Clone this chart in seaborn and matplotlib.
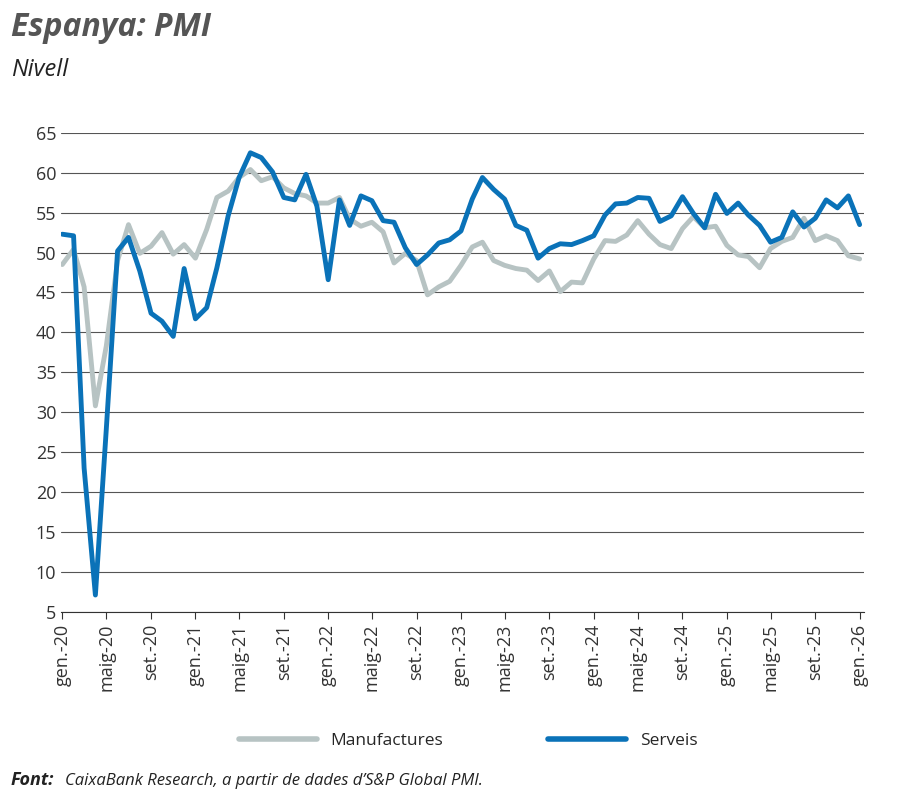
import numpy as np
import pandas as pd
import matplotlib
matplotlib.use("Agg")
import matplotlib.pyplot as plt
import seaborn as sns
from matplotlib.lines import Line2D

months = pd.date_range("2020-01-01", "2026-01-01", freq="MS")

manufactures = [48.5, 50.4, 45.7, 30.8, 38.3, 49.0, 53.5, 49.9, 50.8, 52.5, 49.8, 51.0,
                49.3, 52.9, 56.9, 57.7, 59.4, 60.4, 59.0, 59.5, 58.1, 57.4, 57.1, 56.2,
                56.2, 56.9, 54.2, 53.3, 53.8, 52.6, 48.7, 49.9, 49.0, 44.7, 45.7, 46.4,
                48.4, 50.7, 51.3, 49.0, 48.4, 48.0, 47.8, 46.5, 47.7, 45.1, 46.3, 46.2,
                49.2, 51.5, 51.4, 52.2, 54.0, 52.3, 51.0, 50.5, 53.0, 54.5, 53.1, 53.3,
                50.9, 49.7, 49.5, 48.1, 50.5, 51.4, 51.9, 54.3, 51.5, 52.1, 51.5, 49.6,
                49.2]
serveis = [52.3, 52.1, 23.0, 7.1, 27.9, 50.2, 51.9, 47.7, 42.4, 41.4, 39.5, 48.0,
           41.7, 43.1, 48.1, 54.6, 59.4, 62.5, 61.9, 60.1, 56.9, 56.6, 59.8, 55.8,
           46.6, 56.6, 53.4, 57.1, 56.5, 54.0, 53.8, 50.6, 48.5, 49.7, 51.2, 51.6,
           52.7, 56.7, 59.4, 57.9, 56.7, 53.4, 52.8, 49.3, 50.5, 51.1, 51.0, 51.5,
           52.1, 54.7, 56.1, 56.2, 56.9, 56.8, 53.9, 54.6, 57.0, 54.9, 53.1, 57.3,
           54.9, 56.2, 54.7, 53.4, 51.3, 51.9, 55.1, 53.2, 54.3, 56.6, 55.6, 57.1,
           53.5]

month_names = {1: "gen.", 5: "maig", 9: "set."}
tick_dates = months[::4]
tick_labels = [f"{month_names[d.month]}-{d.year % 100:02d}" for d in tick_dates]

df = pd.DataFrame({"date": list(months) * 2,
                   "value": manufactures + serveis,
                   "serie": ["Manufactures"] * len(months) + ["Serveis"] * len(months)})

sns.set_style("white")
plt.rcParams["font.family"] = ["Open Sans", "DejaVu Sans"]

fig = plt.figure(figsize=(9, 8.05), dpi=100)
ax = fig.add_axes([0.068, 0.24, 0.892, 0.595])
sns.lineplot(data=df, x="date", y="value", hue="serie",
             palette={"Manufactures": "#b7c3c3", "Serveis": "#0a72b8"},
             linewidth=3.5, ax=ax, legend=False)
ax.set_xlim(months[0] - pd.Timedelta(days=3), months[-1] + pd.Timedelta(days=12))
ax.set_ylim(5, 65)
ax.set_yticks(range(5, 70, 5))
ax.yaxis.grid(True, color="#555555", linewidth=0.8)
ax.set_xticks(tick_dates)
ax.set_xticklabels(tick_labels, rotation=90, fontsize=13, color="#333333")
ax.tick_params(axis="y", labelsize=13, colors="#333333", length=0)
ax.tick_params(axis="x", length=5, color="#333333", direction="out", bottom=True)
ax.set_xlabel("")
ax.set_ylabel("")
for s in ["top", "right", "left"]:
    ax.spines[s].set_visible(False)
ax.spines["bottom"].set_color("#333333")

fig.text(0.012, 0.955, "Espanya: PMI", fontsize=23, fontweight="bold", style="italic", color="#555555")
fig.text(0.012, 0.905, "Nivell", fontsize=17, style="italic", color="#222222")

handles = [Line2D([], [], color="#b7c3c3", lw=4), Line2D([], [], color="#0a72b8", lw=4)]
fig.legend(handles, ["Manufactures", "Serveis"], loc="center", bbox_to_anchor=(0.52, 0.08),
           ncol=2, frameon=False, fontsize=12.5, handlelength=4.5, columnspacing=6)
fig.text(0.012, 0.025, "Font:", fontsize=13, fontweight="bold", style="italic", color="#222222")
fig.text(0.072, 0.025, "CaixaBank Research, a partir de dades d\u2019S&P Global PMI.",
         fontsize=12, style="italic", color="#222222")

fig.savefig("out.png", dpi=100)
